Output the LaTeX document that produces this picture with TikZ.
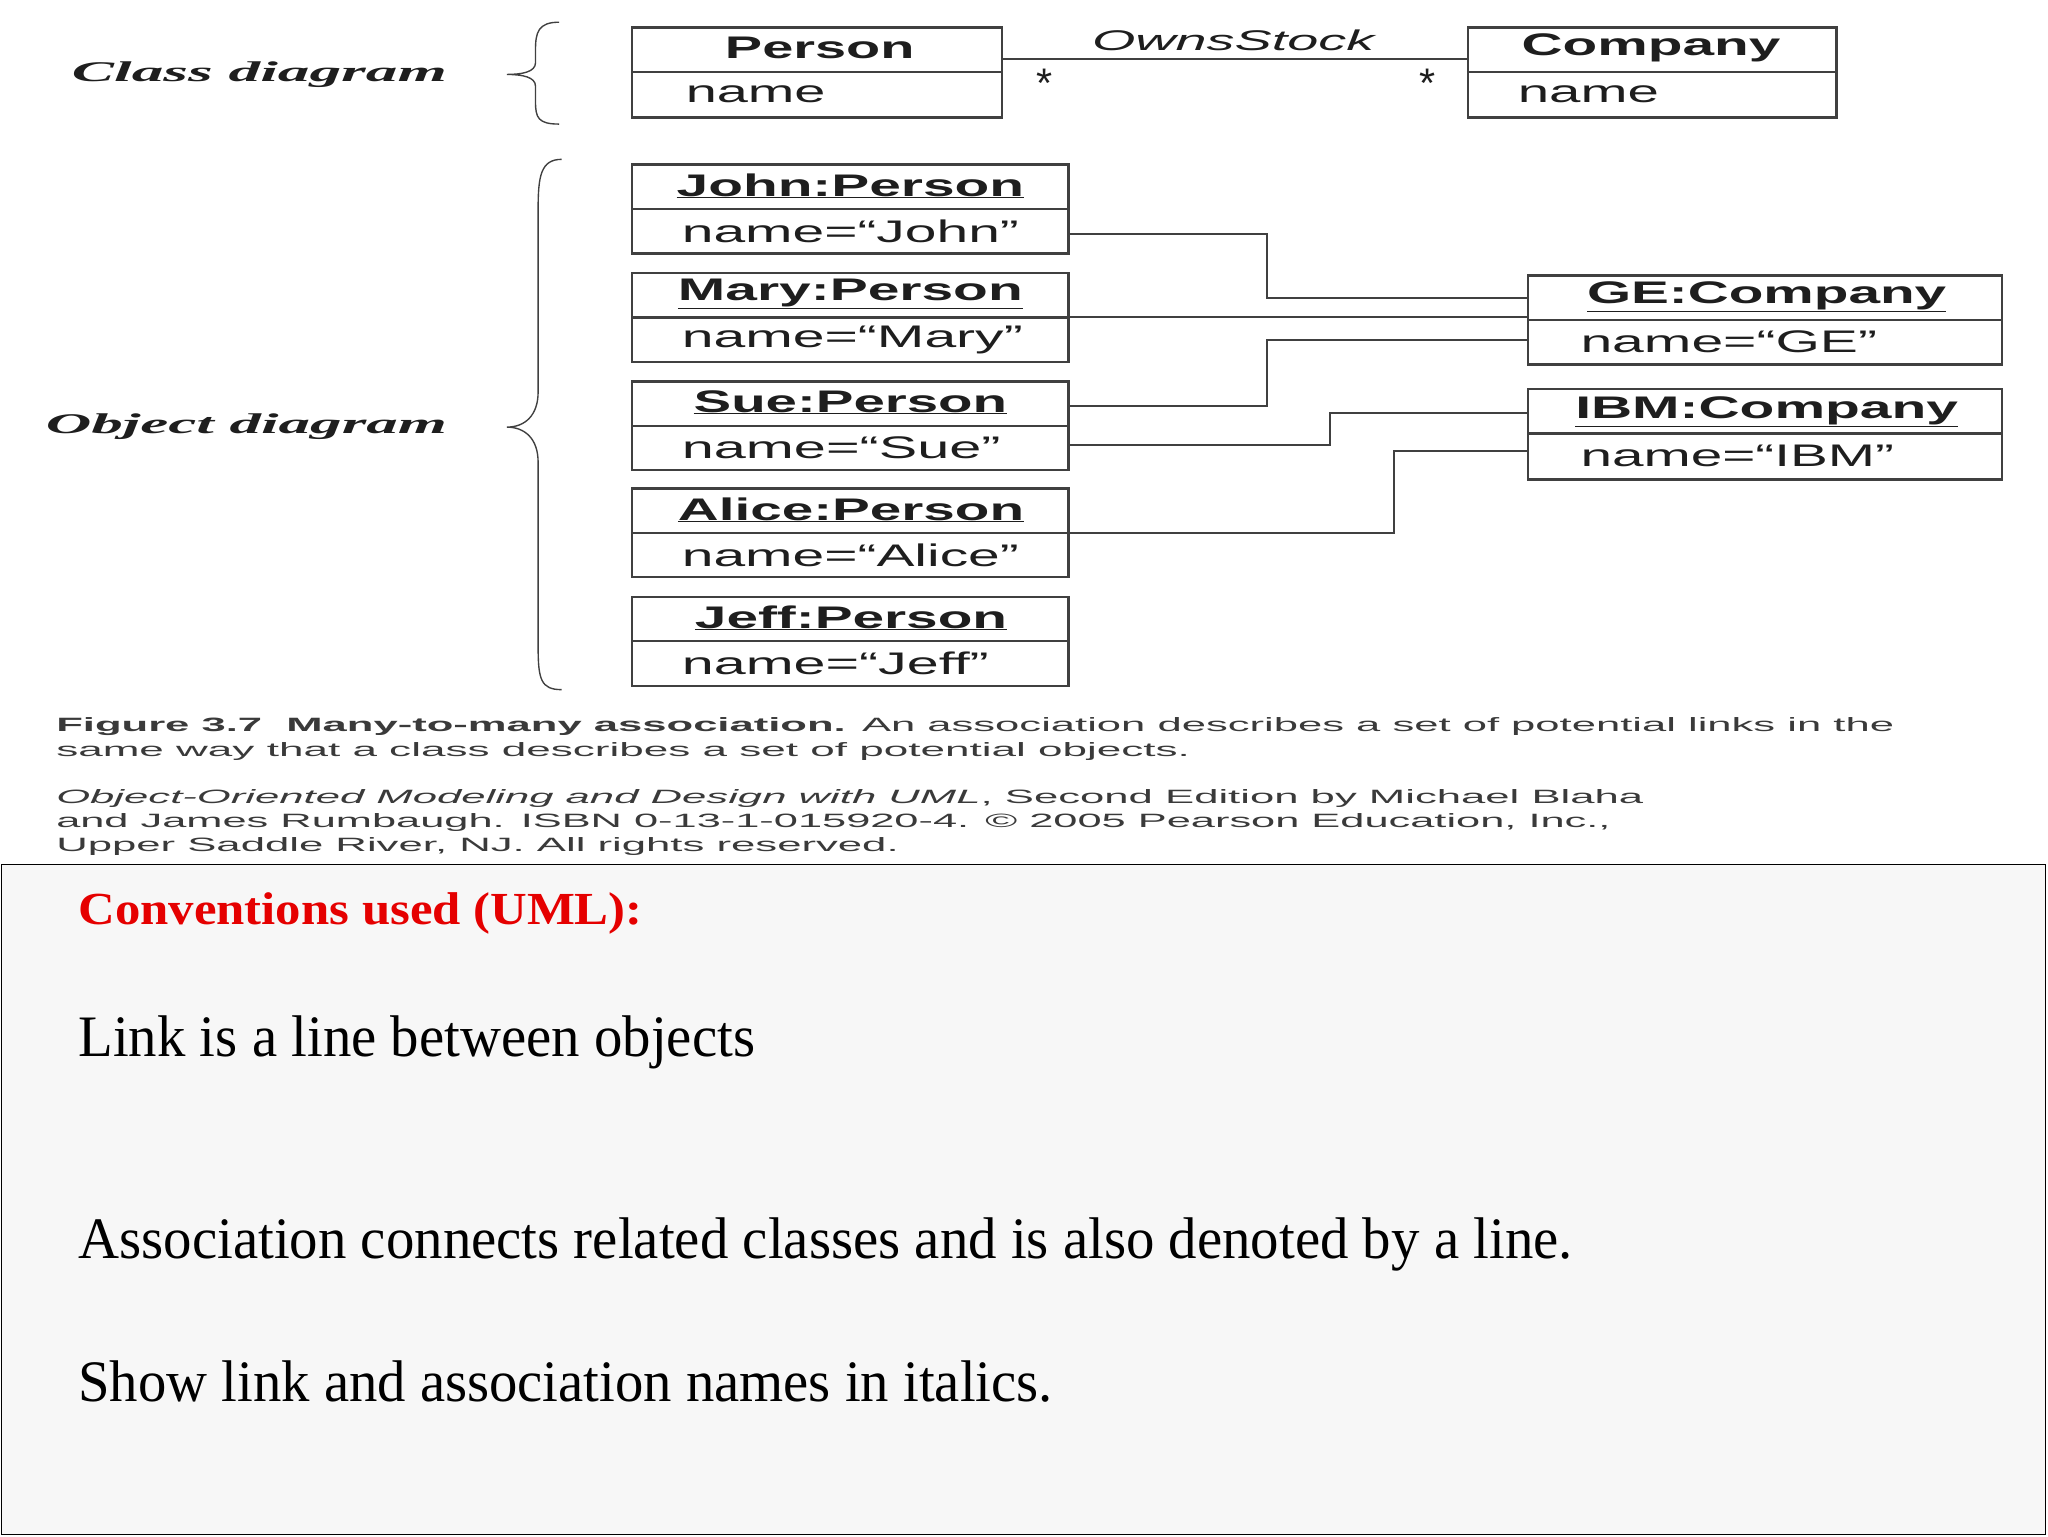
\documentclass[tikz,border=0pt]{standalone}
\usepackage{fontspec}
\setmainfont{Liberation Serif}
\setsansfont{Liberation Sans}
\usepackage{graphicx}
\newcommand\fw[2]{\resizebox{#1mm}{\height}{#2}}
\definecolor{ln}{HTML}{404040}
\definecolor{tx}{HTML}{1E1E1E}
\definecolor{cap}{HTML}{3A3A3A}
\definecolor{panel}{HTML}{F7F7F7}
\begin{document}
\begin{tikzpicture}[x=1mm,y=-1mm,
  box/.style={draw=ln,line width=5pt,inner sep=0pt},
  lk/.style={draw=ln,line width=4pt},
  bt/.style={anchor=west,inner sep=0pt,text=tx,font=\sffamily\bfseries\fontsize{68}{68}\selectfont},
  attx/.style={anchor=west,inner sep=0pt,text=tx,font=\sffamily\fontsize{68}{68}\selectfont},
  ct/.style={anchor=west,inner sep=0pt,text=cap,font=\sffamily\fontsize{42}{42}\selectfont},
  bigt/.style={anchor=west,inner sep=0pt,text=black,font=\fontsize{128}{128}\selectfont},
  lab/.style={anchor=west,inner sep=0pt,text=tx,font=\bfseries\itshape\fontsize{62}{62}\selectfont}]
\useasboundingbox (0,0) rectangle (1568,1176);
\fill[white] (0,0) rectangle (1568,1176);
\draw[fill=panel,line width=3pt] (1,662) rectangle (1566,1175);
% class diagram
\node[lab] (cdl) at (55,57) {\fw{287}{Class diagram}};
\draw[ln,line width=3pt] (428,17) .. controls (412,17) and (410,25) .. (410,38) -- (410,48) .. controls (410,55) and (400,57) .. (388,57) .. controls (400,57) and (410,59) .. (410,66) -- (410,78) .. controls (410,90) and (412,95) .. (428,95);
\node[box,minimum width=283mm,minimum height=69mm] (person) at (625.5,55.5) {};
\draw[ln,line width=5pt] (person.west |- {(0,55)}) -- (person.east |- {(0,55)});
\node[bt] (pt) at (555,37) {\fw{145}{Person}};
\node[attx] (pn) at (525,72) {\fw{107}{name}};
\node[box,minimum width=282mm,minimum height=69mm] (company) at (1265,55.5) {};
\draw[ln,line width=5pt] (company.west |- {(0,55)}) -- (company.east |- {(0,55)});
\node[bt] (ct) at (1165,37) {\fw{198}{Company}};
\node[attx] (cn) at (1162,72) {\fw{108}{name}};
\draw[lk] (person.east |- {(0,45)}) -- (company.west |- {(0,45)});
\node[anchor=west,inner sep=0pt,text=tx,font=\sffamily\itshape\fontsize{62}{62}\selectfont] (os) at (836,31) {\fw{216}{OwnsStock}};
\node[anchor=center,inner sep=0pt,text=tx,font=\sffamily\fontsize{90}{90}\selectfont] (s1) at (800,64) {*};
\node[anchor=center,inner sep=0pt,text=tx,font=\sffamily\fontsize{90}{90}\selectfont] (s2) at (1093,64) {*};
% object diagram
\node[lab] (odl) at (35,327) {\fw{307}{Object diagram}};
\draw[ln,line width=3pt] (430,122) .. controls (414,122) and (412,135) .. (412,160) -- (412,300) .. controls (412,318) and (402,327) .. (388,327) .. controls (402,327) and (412,336) .. (412,354) -- (412,495) .. controls (412,520) and (414,528) .. (430,528);
\foreach \nm/\yt/\ttl/\tw/\tx/\att/\aw in {
  john/126/John:Person/266/518/name=“John”/258,
  mary/209/Mary:Person/264/519/name=“Mary”/261,
  sue/292/Sue:Person/240/531/name=“Sue”/244,
  alice/374/Alice:Person/265/519/name=“Alice”/258,
  jeff/457/Jeff:Person/239/532/name=“Jeff”/235}{
  \node[box,minimum width=334mm,minimum height=68mm] (\nm) at (651,\yt+34) {};
  \draw[ln,line width=5pt] (\nm.west |- {(0,\yt+34)}) -- (\nm.east |- {(0,\yt+34)});
  \node[bt] (\nm t) at (\tx,\yt+16) {\fw{\tw}{\underline{\ttl}}};
  \node[attx] (\nm a) at (522,\yt+51) {\fw{\aw}{\att}};
}
\node[box,minimum width=363mm,minimum height=68mm] (ge) at (1351.5,245) {};
\draw[ln,line width=5pt] (ge.west |- {(0,245)}) -- (ge.east |- {(0,245)});
\node[bt] (get) at (1215,227) {\fw{275}{\underline{GE:Company}}};
\node[attx] (gea) at (1210,262) {\fw{227}{name=“GE”}};
\node[box,minimum width=363mm,minimum height=69mm] (ibm) at (1351.5,332.5) {};
\draw[ln,line width=5pt] (ibm.west |- {(0,332)}) -- (ibm.east |- {(0,332)});
\node[bt] (ibmt) at (1206,315) {\fw{293}{\underline{IBM:Company}}};
\node[attx] (ibma) at (1210,349) {\fw{240}{name=“IBM”}};
% links
\draw[lk] (john.east |- {(0,179)}) -- (970,179) |- (ge.west |- {(0,228)});
\draw[lk] (mary.east |- {(0,243)}) -- (ge.west |- {(0,243)});
\draw[lk] (sue.east |- {(0,311)}) -- (970,311) |- (ge.west |- {(0,260)});
\draw[lk] (sue.east |- {(0,341)}) -- (1018,341) |- (ibm.west |- {(0,316)});
\draw[lk] (alice.east |- {(0,408)}) -- (1067,408) |- (ibm.west |- {(0,345)});
% caption
\node[ct] (c1) at (43,556) {\fw{1407}{\textbf{Figure 3.7\ \ Many-to-many association.} An association describes a set of potential links in the}};
\node[ct] (c2) at (43,575) {\fw{868}{same way that a class describes a set of potential objects.}};
\node[ct] (c3) at (43,611) {\fw{1215}{\textit{Object-Oriented Modeling and Design with UML}, Second Edition by Michael Blaha}};
\node[ct] (c4) at (43,630) {\fw{1190}{and James Rumbaugh. ISBN 0-13-1-015920-4. © 2005 Pearson Education, Inc.,}};
\node[ct] (c5) at (43,648) {\fw{645}{Upper Saddle River, NJ. All rights reserved.}};
% bottom text
\node[anchor=west,inner sep=0pt,text=red!90!black,font=\bfseries\fontsize{100}{100}\selectfont] (conv) at (60,699) {\fw{432}{Conventions used (UML):}};
\node[bigt] (t1) at (60,798) {\fw{518}{Link is a line between objects}};
\node[bigt] (t2) at (60,953) {\fw{1144}{Association connects related classes and is also denoted by a line.}};
\node[bigt] (t3) at (60,1058) {\fw{746}{Show link and association names in italics.}};
\end{tikzpicture}
\end{document}
